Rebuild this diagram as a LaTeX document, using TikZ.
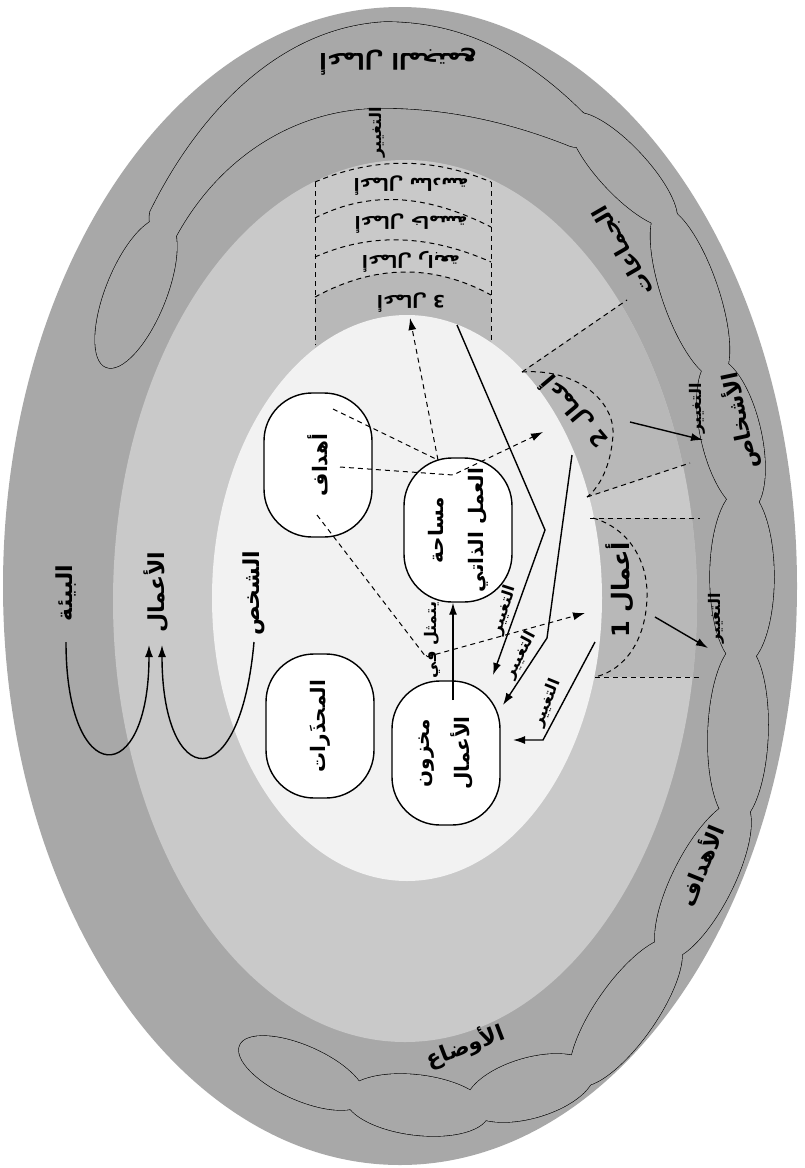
\documentclass[tikz,border=0pt]{standalone}
\usepackage{fontspec}
\newfontfamily\arabicfont[Script=Arabic]{DejaVu Sans}
\TeXXeTstate=1
\usetikzlibrary{arrows.meta}

\definecolor{envgray}{gray}{0.66}
\definecolor{actgray}{gray}{0.79}
\definecolor{ringgray}{gray}{0.72}
\definecolor{selfgray}{gray}{0.95}

\newcommand{\rl}[1]{\beginR #1\endR}
\newcommand{\chainlist}{302/1073/-24/34pt/13.5pt, 417/1105/-7/36pt/15pt, 530/1088/16/33pt/15pt, 626/1012/55/44pt/15pt, 703/880/63/44pt/15pt, 738/733/88/45pt/15pt, 742/577/90/44pt/16pt, 731/435/103/39pt/15pt, 690/293/109/45pt/14pt, 623/170/133/37.5pt/12pt, 136/293/68/40pt/15pt}
\newcommand{\topblob}{(592,122) .. controls (525,52) and (460,22) .. (385,22) .. controls (275,28) and (195,120) .. (150,212) .. controls (146,232) and (162,250) .. (174,240) .. controls (215,162) and (290,108) .. (382,108) .. controls (460,108) and (525,128) .. (570,146) .. controls (588,152) and (602,135) .. (592,122) -- cycle}

\tikzset{
  box/.style={draw, fill=white, rounded corners=24pt, minimum width=72pt, minimum height=54pt, rotate=90, align=center, line width=0.7pt, inner sep=1pt, font=\arabicfont\bfseries\fontsize{10}{20}\selectfont},
  lbl/.style={inner sep=1pt, font=\arabicfont\bfseries\fontsize{11}{13}\selectfont},
  biglbl/.style={inner sep=1pt, font=\arabicfont\bfseries\fontsize{12}{14}\selectfont},
  rowlbl/.style={inner sep=1pt, font=\arabicfont\bfseries\fontsize{8.5}{10}\selectfont},
  chg/.style={inner sep=0.5pt, font=\arabicfont\bfseries\fontsize{8}{9}\selectfont},
  outline/.style={line width=0.6pt},
  flow/.style={line width=0.7pt, -{Latex[length=6pt,width=4pt]}},
  dflow/.style={dash pattern=on 2.5pt off 2pt, line width=0.5pt, -{Latex[length=6pt,width=4pt]}},
  dline/.style={dash pattern=on 2.5pt off 2pt, line width=0.5pt}
}

\begin{document}
\begin{tikzpicture}[x=0.5pt, y=-0.5pt]
	\useasboundingbox (0,0) rectangle (804,1168);
	\fill[white] (0,0) rectangle (804,1168);

	\fill[envgray] (400,586) ellipse [x radius=198.5pt, y radius=289.5pt];

	\foreach \cx/\cy/\an/\ra/\rb in \chainlist
		\draw[outline, fill=envgray, rotate around={\an:(\cx,\cy)}] (\cx,\cy) ellipse [x radius=\ra, y radius=\rb];
	\draw[outline, fill=envgray] \topblob;
	\foreach \cx/\cy/\an/\ra/\rb in \chainlist
		\fill[envgray, rotate around={\an:(\cx,\cy)}] (\cx,\cy) ellipse [x radius=\ra, y radius=\rb];
	\fill[envgray] \topblob;

	\fill[actgray] (405,601) ellipse [x radius=146pt, y radius=220.5pt];
	\begin{scope}
		\clip (405,601) ellipse [x radius=146pt, y radius=220.5pt];
		\fill[ringgray] (480,400) -- (700,250) -- (780,433) -- (560,506) -- cycle;
		\fill[ringgray] (560,518) rectangle (780,677);
	\end{scope}
	\fill[ringgray] (315,297) .. controls (374,265) and (432,263) .. (491,295) -- (491,352) -- (315,352) -- cycle;

	\fill[selfgray] (407,598) ellipse [x radius=97.5pt, y radius=141.5pt];

	\draw[dline] (315,182) -- (315,345);
	\draw[dline] (491,182) -- (491,343);
	\draw[dline] (315,182) .. controls (374,157) and (432,157) .. (491,182);
	\draw[dline] (315,218) .. controls (374,188) and (432,197) .. (491,227);
	\draw[dline] (315,257) .. controls (374,231) and (432,236) .. (491,262);
	\draw[dline] (315,297) .. controls (374,265) and (432,263) .. (491,295);

	\draw[dline] (522,372) -- (627,300);
	\draw[dline] (587,497) -- (690,463);
	\draw[dline] (590,518) -- (700,518);
	\draw[dline] (595,677) -- (700,677);
	\draw[dline] (522,372) .. controls (575,368) and (615,400) .. (613,435) .. controls (611,465) and (600,487) .. (587,497);
	\draw[dline] (593,518) .. controls (628,528) and (648,560) .. (647,597) .. controls (646,640) and (625,670) .. (595,677);

	\node[box] (goals) at (318,465) {\rl{أهداف}};
	\node[box] (ws) at (458,530) {\rl{مساحة}\\\rl{العمل الذاتي}};
	\node[box] (warn) at (320,726) {\rl{المحذَرات}};
	\node[box] (store) at (446,753) {\rl{مخزون}\\\rl{الأعمال}};

	\coordinate (g1) at (333,409);
	\coordinate (j1) at (438,460);
	\coordinate (a3) at (410,318);
	\coordinate (g2) at (340,467);
	\coordinate (j2) at (453,475);
	\coordinate (a2) at (543,432);
	\coordinate (g3) at (317,515);
	\coordinate (j3) at (426,657);
	\coordinate (a1) at (585,613);
	\draw[dflow] (g1) -- (j1) -- (a3);
	\draw[dflow] (g2) -- (j2) -- (a2);
	\draw[dflow] (g3) -- (j3) -- (a1);

	\coordinate (s3) at (457,325);
	\coordinate (k3) at (545,530);
	\coordinate (e3) at (493,675);
	\coordinate (s2) at (572,455);
	\coordinate (k2) at (547,638);
	\coordinate (e2) at (503,705);
	\coordinate (s1) at (595,642);
	\coordinate (k1) at (543,740);
	\coordinate (e1) at (513,740);
	\draw[flow] (s3) -- (k3) -- (e3);
	\draw[flow] (s2) -- (k2) -- (e2);
	\draw[flow] (s1) -- (k1) -- (e1);

	\coordinate (rep) at (453,700);
	\draw[flow] (rep) -- (rep |- ws.west);

	\coordinate (c2) at (630,422);
	\coordinate (p2) at (703,440);
	\coordinate (c1) at (655,617);
	\coordinate (p1) at (708,648);
	\draw[flow] (c2) -- (p2);
	\draw[flow] (c1) -- (p1);

	\node[lbl, rotate=90] (env) at (66,593) {\rl{البيئة}};
	\node[lbl, rotate=90] (act) at (156,592) {\rl{الأعمال}};
	\node[lbl, rotate=90] (per) at (254,593) {\rl{الشخص}};
	\coordinate (envfoot) at (66,642);
	\coordinate (actfootl) at (149,645);
	\coordinate (actfootr) at (162,645);
	\coordinate (perfoot) at (254,642);
	\draw[flow] (envfoot) .. controls (66,790) and (149,790) .. (actfootl);
	\draw[flow] (perfoot) .. controls (240,800) and (162,790) .. (actfootr);

	\node[biglbl, rotate=90] (act1) at (620,590) {\rl{أعمال 1}};
	\node[lbl, rotate=130] (act2) at (574,412) {\rl{أعمال 2}};
	\node[rowlbl, rotate=180] (act3) at (411,302) {\rl{أعمال 3}};
	\node[rowlbl, rotate=180] (row3) at (411,262) {\rl{أعمال رابعة}};
	\node[rowlbl, rotate=180] (row2) at (411,223) {\rl{أعمال خامسة}};
	\node[rowlbl, rotate=180] (row1) at (411,185) {\rl{أعمال سادسة}};

	\node[lbl, rotate=180] (soc) at (398,62) {\rl{أعمال المجتمع}};
	\node[lbl, rotate=120] (grp) at (624,250) {\rl{الجماعات}};
	\node[lbl, rotate=102] (pers) at (740,421) {\rl{الأشخاص}};
	\node[lbl, rotate=68] (aims) at (700,865) {\rl{الأهداف}};
	\node[lbl, rotate=21] (sit) at (465,1046) {\rl{الأوضاع}};

	\node[chg, rotate=90] (ch0) at (377,132) {\rl{التغيير}};
	\node[chg, rotate=90] (ch1) at (697,408) {\rl{التغيير}};
	\node[chg, rotate=90] (ch2) at (716,618) {\rl{التغيير}};
	\node[chg, rotate=72] (ch3) at (504,610) {\rl{التغيير}};
	\node[chg, rotate=62] (ch4) at (521,655) {\rl{التغيير}};
	\node[chg, rotate=68] (ch5) at (547,703) {\rl{التغيير}};
	\node[chg, rotate=90] (rep1) at (432,640) {\rl{يتمثل في}};
\end{tikzpicture}
\end{document}
